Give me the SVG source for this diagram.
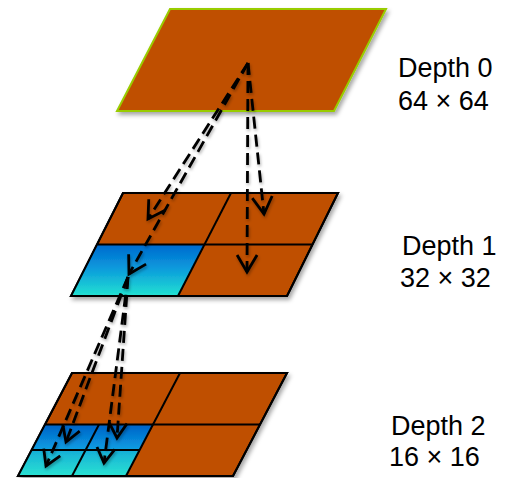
<svg xmlns="http://www.w3.org/2000/svg" width="512" height="478" viewBox="0 0 512 478">
<style>
.blk{fill:#BF5000;stroke:#000;stroke-width:2;stroke-linejoin:miter}
.top{fill:#BF5000;stroke:#99CC00;stroke-width:2}
.grid{fill:none;stroke:#000;stroke-width:2}
.lbl{font-family:"Liberation Sans",Arial,sans-serif;font-size:27px;fill:#000}
.con{fill:none;stroke:#000;stroke-width:2.8;stroke-dasharray:12,6}
</style>
<defs>
<filter id="sh" x="-10%" y="-10%" width="130%" height="140%">
<feDropShadow dx="2" dy="3" stdDeviation="2" flood-color="#000" flood-opacity="0.35"/>
</filter>
<filter id="sh2" x="-20%" y="-10%" width="140%" height="130%">
<feDropShadow dx="1" dy="2" stdDeviation="1.5" flood-color="#000" flood-opacity="0.3"/>
</filter>
<linearGradient id="g1" gradientUnits="userSpaceOnUse" x1="0" y1="244" x2="0" y2="296">
<stop offset="0" stop-color="#0068CE"/>
<stop offset="0.45" stop-color="#0A98DC"/>
<stop offset="1" stop-color="#22E2D2"/>
</linearGradient>
<linearGradient id="g2" gradientUnits="userSpaceOnUse" x1="0" y1="424" x2="0" y2="476">
<stop offset="0" stop-color="#0060C6"/>
<stop offset="0.45" stop-color="#0A98E0"/>
<stop offset="0.55" stop-color="#18B4D6"/>
<stop offset="1" stop-color="#2AE2D2"/>
</linearGradient>
<marker id="ah" markerUnits="userSpaceOnUse" markerWidth="40" markerHeight="40" viewBox="-20 -20 40 40" refX="0" refY="0" orient="auto">
<path d="M-17,-10 L0,0 L-17,10" fill="none" stroke="#000" stroke-width="2.8"/>
</marker>
<marker id="ah2" markerUnits="userSpaceOnUse" markerWidth="40" markerHeight="40" viewBox="-20 -20 40 40" refX="0" refY="0" orient="auto">
<path d="M-15,-9 L0,0 L-15,9" fill="none" stroke="#000" stroke-width="2.8"/>
</marker>
</defs>

<g id="depth0" filter="url(#sh)">
<polygon class="top" points="170,9 386,9 334,111 117,111"/>
</g>

<g id="depth1" filter="url(#sh)">
<polygon class="blk" points="123,193 338,193 287,296 71,296"/>
<polygon points="97.5,244.5 204.5,244.5 178,296 71,296" fill="url(#g1)"/>
<line class="grid" x1="97.5" y1="244.5" x2="312.5" y2="244.5"/>
<line class="grid" x1="231" y1="193" x2="178" y2="296"/>
<polygon class="grid" points="123,193 338,193 287,296 71,296"/>
</g>

<g id="depth2" filter="url(#sh)">
<polygon class="blk" points="72,373 287,373 233,476 18,476"/>
<polygon points="45,424.5 153,424.5 126,476 18,476" fill="url(#g2)"/>
<line class="grid" x1="45" y1="424.5" x2="260" y2="424.5"/>
<line class="grid" x1="180" y1="373" x2="126" y2="476"/>
<line class="grid" x1="31.5" y1="450" x2="139.5" y2="450"/>
<line class="grid" x1="99" y1="424.5" x2="72" y2="476"/>
<polygon class="grid" points="72,373 287,373 233,476 18,476"/>
</g>

<g id="connectors" filter="url(#sh2)">
<line class="con" x1="248" y1="63" x2="148" y2="219" marker-end="url(#ah)"/>
<line class="con" x1="248" y1="63" x2="129" y2="274" marker-end="url(#ah)"/>
<line class="con" x1="248" y1="63" x2="247" y2="272" marker-end="url(#ah)"/>
<line class="con" x1="248" y1="63" x2="264" y2="214" marker-end="url(#ah)"/>
<line class="con" x1="128" y1="277" x2="66" y2="442" marker-end="url(#ah2)"/>
<line class="con" x1="128" y1="277" x2="46" y2="466" marker-end="url(#ah2)"/>
<line class="con" x1="128" y1="277" x2="117" y2="438" marker-end="url(#ah2)"/>
<line class="con" x1="128" y1="277" x2="104" y2="463" marker-end="url(#ah2)"/>
</g>

<g id="labels">
<text class="lbl" x="398" y="77">Depth 0</text>
<text class="lbl" x="398" y="110">64 × 64</text>
<text class="lbl" x="402" y="255">Depth 1</text>
<text class="lbl" x="400" y="287">32 × 32</text>
<text class="lbl" x="391" y="435">Depth 2</text>
<text class="lbl" x="389" y="466">16 × 16</text>
</g>
</svg>
